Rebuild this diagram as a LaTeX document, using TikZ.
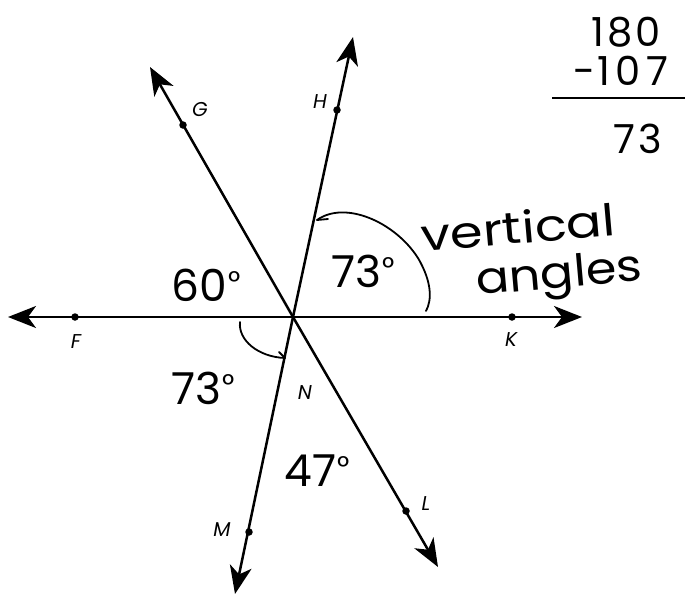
\documentclass[tikz,border=0pt]{standalone}
\usepackage{fontspec}
\setmainfont{Poppins}
\usetikzlibrary{arrows.meta}
\newcommand{\dg}{\hspace{1pt}\raisebox{9pt}{\fontsize{30}{30}\selectfont\char"00B0}}
\begin{document}
\begin{tikzpicture}[x=1pt,y=-1pt,
  ray/.style={line width=2.5pt,-{Stealth[length=28pt,width=22pt,inset=8pt]}},
  pt/.style={circle,fill=black,inner sep=0pt,minimum size=7.5pt},
  lbl/.style={font=\fontsize{20}{20}\selectfont\itshape,inner sep=0pt},
  hand/.style={font=\fontsize{44}{44}\selectfont,inner sep=0pt},
  calc/.style={font=\fontsize{40}{40}\selectfont,inner sep=0pt,anchor=base east},
  arcline/.style={line width=1.8pt,line cap=round}]
\useasboundingbox (0,0) rectangle (688,598);
\coordinate (N) at (293,317);
\coordinate (Ftip) at (8,317);
\coordinate (Ktip) at (582,317);
\coordinate (Gtip) at (150,67);
\coordinate (Ltip) at (438,567);
\coordinate (Htip) at (353,37);
\coordinate (Mtip) at (235,594);
\draw[ray] (N) -- (Ftip);
\draw[ray] (N) -- (Ktip);
\draw[ray] (N) -- (Gtip);
\draw[ray] (N) -- (Ltip);
\draw[ray] (N) -- (Htip);
\draw[ray] (N) -- (Mtip);
\node[pt] (F) at (75,317) {};
\node[pt] (K) at (512,317) {};
\node[pt] (G) at (183,125) {};
\node[pt] (H) at (337,110) {};
\node[pt] (L) at (406,511) {};
\node[pt] (M) at (249,532) {};
\node[lbl] (Fl) at (76,342) {F};
\node[lbl] (Kl) at (511,340) {K};
\node[lbl] (Gl) at (200,110) {G};
\node[lbl] (Hl) at (320,102) {H};
\node[lbl] (Ll) at (426,504) {L};
\node[lbl] (Ml) at (222,530) {M};
\node[lbl] (Nl) at (305,393) {N};
% angle arcs
\draw[arcline] (317,220) .. controls (345,200) and (395,222) .. (418,258)
  .. controls (432,282) and (432,300) .. (426,311);
\draw[arcline] (317,220) -- (328,219);
\draw[arcline] (240,322) .. controls (238,340) and (258,357) .. (285,358);
\draw[arcline] (279,352) -- (285,358);
% angle values
\node[hand] (a60) at (206,285) {60\dg};
\node[hand] (a73u) at (363,271) {73\dg};
\node[hand] (a73l) at (203,388) {73\dg};
\node[hand] (a47) at (317,471) {47\dg};
\node[hand,rotate=5,anchor=base west,xscale=1.2] (vert) at (422,252) {vertical};
\node[hand,rotate=5,anchor=base west,xscale=1.12] (ang) at (477,295) {angles};
% subtraction
\node[calc] (n180) at (661,46) {1\hspace{3pt}8\hspace{3pt}0};
\node[calc] (n107) at (669,85) {-\hspace{2pt}1\hspace{6pt}0\hspace{6pt}7};
\draw[line width=1.8pt] (552,98) -- (685,98);
\node[calc] (n73) at (662,153) {7\hspace{3pt}3};
\end{tikzpicture}
\end{document}
